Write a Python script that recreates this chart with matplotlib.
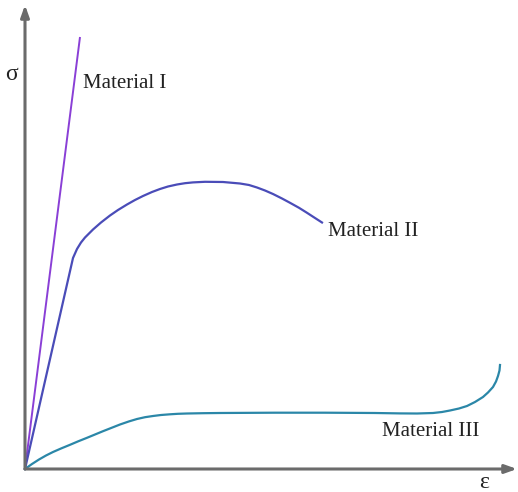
import matplotlib
matplotlib.use("Agg")
import matplotlib.pyplot as plt

# Material I: linear elastic (brittle)
m1_strain = [0, 55]
m1_stress = [0, 432]

# Material II: elastic then plastic hump
m2_strain = [0, 48, 52, 56, 60, 68, 76, 85, 93, 102, 110, 118, 127, 135, 143, 152, 160, 168, 180, 198, 215, 224, 232, 240, 248, 257, 265, 274, 282, 290, 297]
m2_stress = [0, 211, 220, 226.5, 231.5, 239.5, 246.5, 253.5, 259, 264.5, 269, 273, 277, 280, 282.5, 284.5, 285.8, 286.6, 287.2, 287, 285.5, 284, 281.5, 278.5, 275, 270.5, 266.2, 261.2, 256.2, 251, 246.5]

# Material III: soft, plateau then stiffening
m3_strain = [0, 7, 14, 21, 28, 36, 45, 53, 62, 78, 95, 104, 112, 120, 128, 136, 145, 153, 162, 178, 195, 250, 300, 350, 375, 392, 408, 417, 425, 434, 442, 450, 458, 463, 468, 471, 473, 474.5, 475]
m3_stress = [0, 5, 9.5, 13.5, 17, 20.5, 24.2, 27.6, 31.2, 37.8, 44.5, 47.6, 50, 51.8, 53, 54, 54.7, 55.2, 55.5, 55.8, 56, 56.3, 56.3, 56, 55.6, 55.5, 56, 57, 58.5, 60.5, 63, 67, 72, 76.5, 82, 87.5, 93, 98.5, 104]

labels = ["Material I", "Material II", "Material III"]
colors = ["#8a3fd6", "#4a4cb8", "#2b87a8"]

fig = plt.figure(figsize=(5.18, 4.92), dpi=100)
ax = fig.add_axes([0, 0, 1, 1])
ax.set_xlim(-25, 493)
ax.set_ylim(-23, 469)
ax.axis("off")

ax.plot(m1_strain, m1_stress, color=colors[0], lw=1.4, solid_capstyle="butt")
ax.plot(m2_strain, m2_stress, color=colors[1], lw=1.6, solid_joinstyle="round")
ax.plot(m3_strain, m3_stress, color=colors[2], lw=1.6, solid_joinstyle="round")

axis_col = "#6b6b6b"
ax.annotate("", xy=(0, 464), xytext=(0, 0),
            arrowprops=dict(arrowstyle="-|>,head_length=0.7,head_width=0.25", color=axis_col, lw=2.2, shrinkA=0, shrinkB=0))
ax.annotate("", xy=(492, 0), xytext=(0, 0),
            arrowprops=dict(arrowstyle="-|>,head_length=0.7,head_width=0.25", color=axis_col, lw=2.2, shrinkA=0, shrinkB=0))

font = dict(family="Liberation Serif", fontsize=15, color="#222222")
ax.text(58, 386, labels[0], ha="left", va="center", **font)
ax.text(303, 237, labels[1], ha="left", va="center", **font)
ax.text(357, 37, labels[2], ha="left", va="center", **font)
ax.text(-14, 394, "σ", ha="center", va="center", family="Liberation Serif", fontsize=17, color="#222222")
ax.text(459, -13, "ε", ha="center", va="center", family="Liberation Serif", fontsize=17, color="#222222")

fig.savefig("out.png", dpi=100)
